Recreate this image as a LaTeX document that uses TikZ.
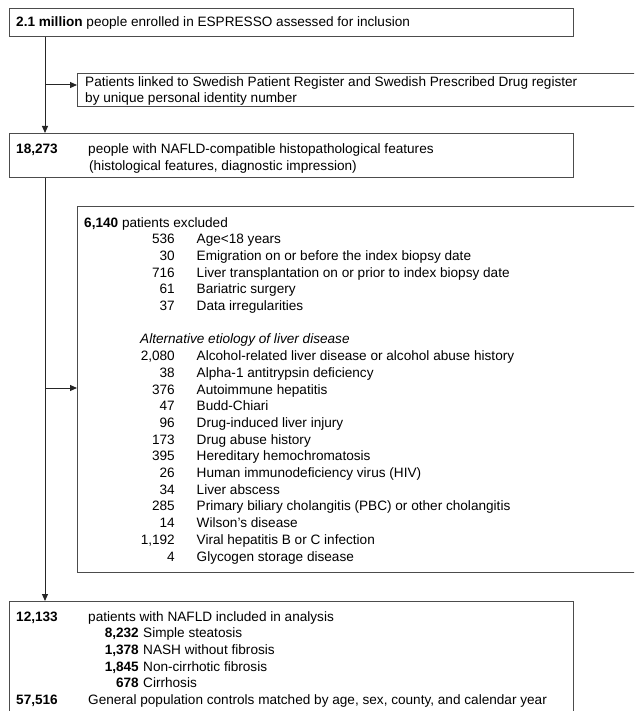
\documentclass[tikz,border=0pt]{standalone}
\usepackage{fontspec}
\setmainfont{Liberation Sans}
\usetikzlibrary{arrows.meta}

\tikzset{
  flowbox/.style={draw=black!70, line width=1.2pt, anchor=north west, inner sep=0pt},
  lbl/.style={anchor=base west, inner sep=0pt, font=\fontsize{13.6}{16.7}\selectfont},
  num/.style={lbl, anchor=base east},
  arr/.style={draw=black!85, line width=1pt, -{Triangle[length=7pt,width=6pt]}},
}

\begin{document}
\begin{tikzpicture}[x=1pt,y=-1pt]
\useasboundingbox (0,0) rectangle (634,711);
\clip (0,0) rectangle (634,711);
% boxes
\node[flowbox, minimum width=564pt, minimum height=28pt] (enrol) at (9,8) {};
\node[flowbox, minimum width=570pt, minimum height=33pt] (linked) at (77,73) {};
\node[flowbox, minimum width=564pt, minimum height=44pt] (nafld) at (9,133) {};
\node[flowbox, minimum width=570pt, minimum height=366pt] (excl) at (77,206) {};
\node[flowbox, minimum width=564pt, minimum height=130pt] (incl) at (9,601) {};

% enrolment and linkage
\node[lbl] (enroltxt) at (16,27) {\textbf{2.1 million} people enrolled in ESPRESSO assessed for inclusion};
\node[lbl] (linkedtxt) at (85,86.5) {Patients linked to Swedish Patient Register and Swedish Prescribed Drug register};
\node[lbl] (linkedtxtb) at (85,103) {by unique personal identity number};
\node[lbl] (nafldnum) at (16,154) {\textbf{18,273}};
\node[lbl] (nafldtxt) at (88,154) {people with NAFLD-compatible histopathological features};
\node[lbl] (nafldtxtb) at (89,170.7) {(histological features, diagnostic impression)};

% exclusions
\node[lbl] (excltxt) at (84,227) {\textbf{6,140} patients excluded};
\foreach \n/\t [count=\i] in {536/Age<18 years, 30/Emigration on or before the index biopsy date,
  716/Liver transplantation on or prior to index biopsy date, 61/Bariatric surgery,
  37/Data irregularities} {
  \node[num] (exn\i) at (175,{227+16.7*\i}) {\n};
  \node[lbl] (ext\i) at (196.5,{227+16.7*\i}) {\t};
}
\node[lbl] (alttxt) at (140,{227+16.7*7}) {\itshape Alternative etiology of liver disease};
\foreach \n/\t [count=\i] in {{2,080}/Alcohol-related liver disease or alcohol abuse history,
  38/Alpha-1 antitrypsin deficiency, 376/Autoimmune hepatitis, 47/Budd-Chiari,
  96/Drug-induced liver injury, 173/Drug abuse history, 395/Hereditary hemochromatosis,
  26/Human immunodeficiency virus (HIV), 34/Liver abscess,
  285/Primary biliary cholangitis (PBC) or other cholangitis, 14/Wilson’s disease,
  {1,192}/Viral hepatitis B or C infection, 4/Glycogen storage disease} {
  \node[num] (aln\i) at (175,{227+16.7*(7+\i)}) {\n};
  \node[lbl] (alt\i) at (196.5,{227+16.7*(7+\i)}) {\t};
}

% included
\node[lbl] (inclnum) at (16,621) {\textbf{12,133}};
\node[lbl] (incltxt) at (88,621) {patients with NAFLD included in analysis};
\foreach \n/\t [count=\i] in {{8,232}/Simple steatosis, {1,378}/NASH without fibrosis,
  {1,845}/Non-cirrhotic fibrosis, 678/Cirrhosis} {
  \node[num] (stn\i) at (139,{621+16.7*\i}) {\textbf{\n}};
  \node[lbl] (stt\i) at (143,{621+16.7*\i}) {\t};
}
\node[lbl] (ctrlnum) at (16,{621+16.7*5}) {\textbf{57,516}};
\node[lbl] (ctrltxt) at (88,{621+16.7*5}) {General population controls matched by age, sex, county, and calendar year};

% connectors
\coordinate (s1) at ([xshift=36pt]enrol.south west);
\coordinate (b1) at (45,85);
\coordinate (b2) at (45,388);
\draw[arr] (s1) -- (s1 |- nafld.north);
\draw[arr] (b1) -- (b1 -| linked.west);
\draw[arr] (nafld.south -| s1) -- (incl.north -| s1);
\draw[arr] (b2) -- (b2 -| excl.west);
\end{tikzpicture}
\end{document}
